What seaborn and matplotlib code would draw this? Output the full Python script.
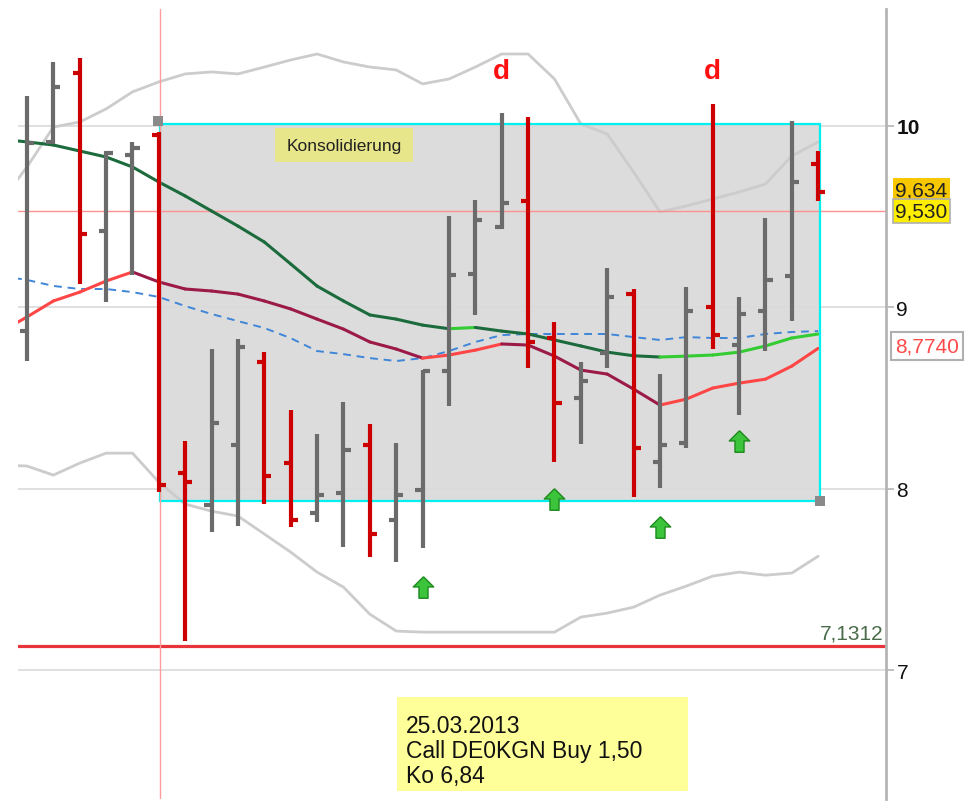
import numpy as np
import pandas as pd
import matplotlib
matplotlib.use("Agg")
import matplotlib.pyplot as plt
import seaborn as sns
from matplotlib.patches import Rectangle
from matplotlib.path import Path

# ---------------- data ----------------
opens = [8.869, 9.91, 10.292, 9.421, 9.84, 9.95, 8.086, 7.91, 8.24, 8.698, 8.141,
         7.865, 7.976, 8.24, 7.827, 7.992, 8.649, 9.184, 9.443, 9.586, 8.831, 8.5,
         8.748, 9.073, 8.147, 8.252, 9.002, 8.792, 8.98, 9.173, 9.79]
highs = [10.165, 10.353, 10.375, 9.862, 9.912, 9.967, 8.263, 8.77, 8.825, 8.753, 8.434,
         8.301, 8.478, 8.356, 8.252, 8.654, 9.504, 9.592, 10.072, 10.05, 8.919, 8.698,
         9.217, 9.1, 8.632, 9.112, 10.121, 9.057, 9.493, 10.028, 9.862]
lows = [8.704, 9.90, 9.129, 9.029, 9.178, 7.981, 7.159, 7.761, 7.794, 7.915, 7.788,
        7.816, 7.678, 7.623, 7.595, 7.672, 8.456, 8.958, 9.432, 8.665, 8.147, 8.246,
        8.665, 7.954, 8.004, 8.224, 8.77, 8.406, 8.759, 8.924, 9.586]
closes = [9.906, 10.215, 9.404, 9.851, 9.879, 8.02, 8.036, 8.362, 8.781, 8.07, 7.827,
          7.965, 8.213, 7.75, 7.965, 8.649, 9.178, 9.482, 9.575, 8.809, 8.472, 8.594,
          9.057, 8.224, 8.24, 8.98, 8.847, 8.963, 9.151, 9.691, 9.634]

# indicator lines, from bar -1 (off-screen left) to bar 30
bb_upper = [9.58, 9.774, 9.994, 10.022, 10.094, 10.188, 10.243, 10.287, 10.298, 10.287,
            10.325, 10.364, 10.397, 10.353, 10.325, 10.309, 10.232, 10.259, 10.325, 10.397,
            10.397, 10.259, 10.011, 9.956, 9.746, 9.526, 9.559, 9.597, 9.636, 9.68,
            9.835, 9.912]
bb_lower = [8.13, 8.125, 8.075, 8.141, 8.196, 8.196, 8.036, 7.915, 7.876, 7.849, 7.75,
            7.65, 7.54, 7.457, 7.308, 7.215, 7.209, 7.209, 7.209, 7.209, 7.209, 7.209,
            7.292, 7.314, 7.347, 7.413, 7.463, 7.518, 7.54, 7.523, 7.535, 7.628]
ma_green = [9.928, 9.912, 9.895, 9.862, 9.829, 9.774, 9.691, 9.614, 9.531, 9.448, 9.36,
            9.239, 9.117, 9.035, 8.958, 8.935, 8.902, 8.882, 8.889, 8.869, 8.853, 8.82,
            8.787, 8.753, 8.733, 8.726, 8.731, 8.737, 8.753, 8.787, 8.831, 8.853]
ma_red = [8.864, 8.947, 9.035, 9.084, 9.145, 9.195, 9.14, 9.101, 9.09, 9.073, 9.035,
          8.991, 8.935, 8.88, 8.809, 8.77, 8.72, 8.737, 8.764, 8.798, 8.792, 8.731,
          8.654, 8.632, 8.549, 8.461, 8.494, 8.555, 8.582, 8.604, 8.676, 8.774]
ma_blue = [9.173, 9.151, 9.118, 9.101, 9.101, 9.084, 9.057, 9.007, 8.963, 8.924, 8.886,
           8.83, 8.759, 8.742, 8.72, 8.704, 8.72, 8.759, 8.809, 8.847, 8.853, 8.853,
           8.853, 8.853, 8.836, 8.82, 8.836, 8.831, 8.831, 8.853, 8.864, 8.869]

signal_bars = [15, 20, 24, 27]
signal_y = [7.457, 7.943, 7.788, 8.263]
d_bars = [18, 26]
d_y = [10.303, 10.303]

support_level = 7.1312
support_label = "7,1312"
resistance_level = 9.53
last_close_label = "9,634"
level_label = "9,530"
ma_label = "8,7740"
ytick_values = [7, 8, 9, 10]
ytick_labels = ["7", "8", "9", "10"]
box_label = "Konsolidierung"
note_lines = ["25.03.2013", "Call DE0KGN Buy 1,50", "Ko 6,84"]

# ---------------- styling ----------------
sns.set_theme(style="white")
plt.rcParams["font.family"] = ["Liberation Sans", "DejaVu Sans"]

W, H = 969, 803
fig = plt.figure(figsize=(W / 100, H / 100), dpi=100)
ax = fig.add_axes([18 / W, 3 / H, 868 / W, 790 / H])
ax.set_xlim(-0.341, 32.57)
ax.set_ylim(6.289, 10.645)

idx = np.arange(len(opens))
lx = np.arange(-1, len(opens))

# consolidation box
box_x0, box_x1, box_y0, box_y1 = 5.04, 30.07, 7.93, 10.01
ax.add_patch(Rectangle((box_x0, box_y0), box_x1 - box_x0, box_y1 - box_y0,
                       fc="#dcdcdc", ec="none", zorder=0.3))

# Bollinger bands
df_bb = pd.DataFrame({"x": lx, "up": bb_upper, "lo": bb_lower, "blue": ma_blue})
sns.lineplot(data=df_bb, x="x", y="up", ax=ax, color="#cccccc", lw=2.0, zorder=1, legend=False)
sns.lineplot(data=df_bb, x="x", y="lo", ax=ax, color="#cccccc", lw=2.0, zorder=1, legend=False)
ax.plot(lx, ma_blue, color="#3f86d8", lw=1.4, ls=(0, (4, 3)), zorder=2)
ax.set_xlabel("")
ax.set_ylabel("")


def trend_line(values, up_color, down_color, lw):
    for i in range(len(values) - 1):
        c = up_color if values[i + 1] > values[i] else down_color
        ax.plot(lx[i:i + 2], values[i:i + 2], color=c, lw=lw, zorder=2.5,
                solid_capstyle="round")


trend_line(ma_green, "#33cc33", "#1b6b3c", 2.2)
trend_line(ma_red, "#ff4646", "#9b1a48", 2.2)

# cyan box border
ax.add_patch(Rectangle((box_x0, box_y0), box_x1 - box_x0, box_y1 - box_y0,
                       fc="none", ec="#00f0f0", lw=1.6, zorder=3))

# reference lines
ax.axhline(resistance_level, color="#ff9090", lw=1.0, zorder=2)
ax.axvline(box_x0, color="#ff9c9c", lw=1.0, zorder=3.2)
ax.axhline(support_level, color="#e8333a", lw=2.3, zorder=2)

# OHLC bars
cols = ["#6b6b6b" if c >= o else "#cc0000" for o, c in zip(opens, closes)]
tick = 0.27
ax.vlines(idx, lows, highs, colors=cols, lw=3.0, zorder=5)
ax.hlines(opens, idx - tick, idx, colors=cols, lw=3.0, zorder=5)
ax.hlines(closes, idx, idx + tick, colors=cols, lw=3.0, zorder=5)

# box corner handles
ax.scatter([box_x0 - 0.08, box_x1], [box_y1 + 0.02, box_y0], marker="s", s=60,
           color="#8a8a8a", zorder=6, linewidths=0)

# Konsolidierung label
ax.add_patch(Rectangle((9.40, 9.801), 5.24, 0.188, fc="#e8e68a", ec="none", zorder=3.5))
ax.text(12.02, 9.895, box_label, fontsize=12.5, color="#222222",
        ha="center", va="center", zorder=3.6)

# d markers
for b, y in zip(d_bars, d_y):
    ax.text(b, y, "d", color="#ff1010", fontsize=20, fontweight="bold",
            ha="center", va="center", zorder=6)

# green up arrows
arrow = Path([(0, 1), (0.95, 0.05), (0.42, 0.05), (0.42, -1), (-0.42, -1),
              (-0.42, 0.05), (-0.95, 0.05), (0, 1)])
ax.scatter(signal_bars, signal_y, marker=arrow, s=240, color="#3cc43c",
           edgecolors="#1e8a1e", linewidths=1.0, zorder=6)

# support label
ax.text(0.9975, support_level + 0.018, support_label, transform=ax.get_yaxis_transform(),
        ha="right", va="bottom", fontsize=15, color="#4a6b4a", zorder=6)

# grid and axes styling
ax.set_yticks(ytick_values)
ax.set_yticklabels(ytick_labels)
ax.set_xticks([])
ax.grid(axis="y", color="#dadada", lw=1.2)
ax.set_axisbelow(True)
for s in ["left", "top", "bottom"]:
    ax.spines[s].set_visible(False)
ax.spines["right"].set_color("#b5b5b5")
ax.spines["right"].set_linewidth(2.0)
ax.yaxis.tick_right()
ax.tick_params(axis="y", length=6, width=1.2, color="#b5b5b5", pad=1.5,
               labelsize=15, labelcolor="#111111")
for lbl in ax.get_yticklabels():
    if lbl.get_text() == "10":
        lbl.set_fontweight("bold")

# right-side value boxes
tr = ax.get_yaxis_transform()
ax.text(1.0104, 9.645, last_close_label, transform=tr, fontsize=15, color="#222222",
        ha="left", va="center", clip_on=False, zorder=7,
        bbox=dict(boxstyle="square,pad=0.12", fc="#f7c800", ec="none"))
ax.text(1.0104, 9.533, level_label, transform=tr, fontsize=15, color="#222222",
        ha="left", va="center", clip_on=False, zorder=8,
        bbox=dict(boxstyle="square,pad=0.12", fc="#ffee00", ec="#b0b0b0", lw=1.2))
ax.text(1.0104, 8.787, ma_label, transform=tr, fontsize=15, color="#ff4a4a",
        ha="left", va="center", clip_on=False, zorder=7,
        bbox=dict(boxstyle="square,pad=0.2", fc="white", ec="#b0b0b0", lw=1.5))

# note box at bottom
fig.patches.append(Rectangle((397 / W, 1 - 792 / H), 291 / W, 94 / H,
                             transform=fig.transFigure, fc="#ffff99", ec="none", zorder=10))
for line, base in zip(note_lines, [733, 758, 783]):
    fig.text(406 / W, 1 - base / H, line, fontsize=16.5, color="#111111",
             ha="left", va="baseline", zorder=11)

fig.savefig("out.png", dpi=100)
